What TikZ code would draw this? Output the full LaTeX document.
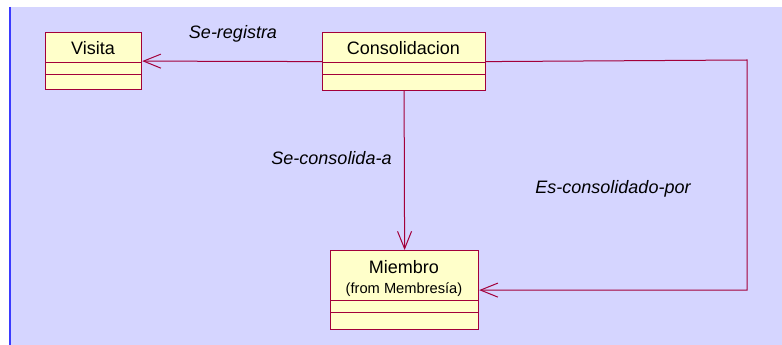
\documentclass[tikz,border=0pt]{standalone}
\usepackage{fontspec}
\setmainfont{Liberation Sans}
\usetikzlibrary{arrows.meta,calc}
\definecolor{bgl}{HTML}{D5D5FF}
\definecolor{edge}{HTML}{A3003A}
\definecolor{fillc}{HTML}{FFFFCA}
\definecolor{bluel}{HTML}{3A3AFF}
\tikzset{
  classbox/.style={draw=edge, fill=fillc, line width=0.9pt, inner sep=0pt, anchor=north west},
  divider/.style={draw=edge, line width=0.75pt},
  assoc/.style={draw=edge, line width=0.75pt, -{Straight Barb[length=13pt, width=10.5pt, line width=0.75pt]}},
  title/.style={font=\fontsize{13.5}{16}\selectfont, inner sep=0pt},
  small/.style={font=\fontsize{11}{13}\selectfont, inner sep=0pt},
  rolelabel/.style={font=\fontsize{13.5}{16}\selectfont\itshape, inner sep=0pt}
}
\begin{document}
\begin{tikzpicture}[x=0.75pt, y=-0.75pt]
\useasboundingbox (0,0) rectangle (782,345);
\fill[white] (0,0) rectangle (782,345);
\fill[bgl] (10,7) rectangle (782,345);
\draw[bluel, line width=1.3pt] (10,7) -- (10,345);

% Visita
\node[classbox, minimum width=72pt, minimum height=42.75pt] (visita) at (45,32) {};
\node[title] (visitaT) at (93,48) {Visita};
\draw[divider] (45,63) -- (141,63);
\draw[divider] (45,75) -- (141,75);

% Consolidacion
\node[classbox, minimum width=122.25pt, minimum height=43.5pt] (consol) at (322,32) {};
\node[title] (consolT) at (403.5,48) {Consolidacion};
\draw[divider] (322,63) -- (485,63);
\draw[divider] (322,75) -- (485,75);

% Miembro
\node[classbox, minimum width=111pt, minimum height=59.25pt] (miembro) at (330,250) {};
\node[title] (miembroT) at (404,267) {Miembro};
\node[small] (miembroF) at (404,290) {(from Membres\'{\i}a)};
\draw[divider] (330,301) -- (478,301);
\draw[divider] (330,313) -- (478,313);

% connectors
\draw[assoc] (consol.west) -- (visita.east);
\draw[assoc] (consol.south) -- (miembro.north);
\coordinate (corner) at (747,60);
\draw[assoc] (consol.east) -- (corner) |- (miembro.east);

% labels
\node[rolelabel] (l1) at (233,33.5) {Se-registra};
\node[rolelabel] (l2) at (331.5,158) {Se-consolida-a};
\node[rolelabel] (l3) at (613,188.5) {Es-consolidado-por};
\end{tikzpicture}
\end{document}
